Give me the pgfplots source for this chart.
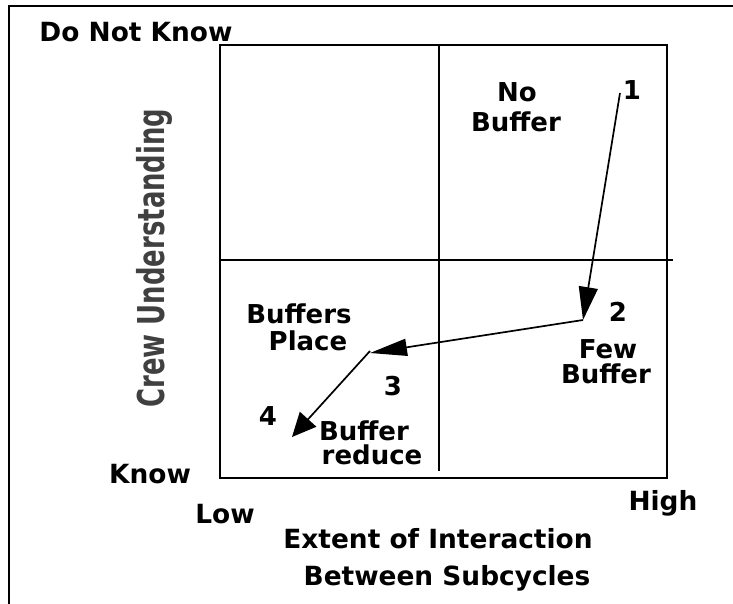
\documentclass[border=0pt]{standalone}
\usepackage{pgfplots}
\pgfplotsset{compat=1.18}
\usetikzlibrary{arrows.meta}
\usepackage{fontspec}
\setmainfont{DejaVu Sans}
\newcommand\lab{\fontsize{13pt}{13pt}\selectfont\bfseries}
\newcommand\ttl{\fontsize{13.2pt}{13.2pt}\selectfont\bfseries}
\begin{document}
\begin{tikzpicture}
\begin{axis}[
  scale only axis, width=223.5pt, height=216.5pt,
  xmin=220, xmax=667, ymin=45, ymax=478, y dir=reverse,
  axis line style={line width=1pt}, ticks=none, clip=false,
]
% quadrant dividers
\addplot[line width=1pt] coordinates {(439,45) (439,471)};
\addplot[line width=1pt] coordinates {(220,260) (673,260)};
% path arrows
\addplot[line width=0.85pt, -{Triangle[length=16.5pt,width=9.5pt]}] coordinates {(620,93) (583,320)};
\addplot[line width=0.85pt, -{Triangle[length=18.5pt,width=8.5pt]}] coordinates {(583,320) (370,353)};
\addplot[line width=0.85pt, -{Triangle[length=12pt,width=11pt]}] coordinates {(370,351) (292,437)};
% outer frame
\draw[line width=1pt] (axis cs:9.5,604) -- (axis cs:9.5,6.5) -- (axis cs:733,6.5);
% labels inside
\node[font=\lab, anchor=base] at (axis cs:517,102) {No};
\node[font=\lab, anchor=base] at (axis cs:516,132) {Buffer};
\node[font=\lab, anchor=base] at (axis cs:632,100) {1};
\node[font=\lab, anchor=base] at (axis cs:618,321) {2};
\node[font=\lab, anchor=base] at (axis cs:608,358) {Few};
\node[font=\lab, anchor=base] at (axis cs:606,383) {Buffer};
\node[font=\lab, anchor=base] at (axis cs:299,323) {Buffers};
\node[font=\lab, anchor=base] at (axis cs:308,350) {Place};
\node[font=\lab, anchor=base] at (axis cs:393,395) {3};
\node[font=\lab, anchor=base] at (axis cs:268,425) {4};
\node[font=\lab, anchor=base, inner sep=0pt] at (axis cs:364,440) {Buffer};
\node[font=\lab, anchor=base, inner sep=0pt] at (axis cs:372,464) {reduce};
% labels outside
\node[font=\ttl, anchor=base] at (axis cs:136,42) {Do Not Know};
\node[font=\ttl, anchor=base] at (axis cs:150,483) {Know};
\node[font=\ttl, anchor=base] at (axis cs:225,523) {Low};
\node[font=\ttl, anchor=base] at (axis cs:663,510) {High};
\node[font=\ttl, anchor=base] at (axis cs:438,548) {Extent of Interaction};
\node[font=\ttl, anchor=base] at (axis cs:447,585) {Between Subcycles};
\node[anchor=base, rotate=90, text=black!75] at (axis cs:165,258)
  {\scalebox{0.7}[1]{\fontsize{18.5pt}{18.5pt}\selectfont\bfseries Crew Understanding}};
\coordinate (bbTL) at (axis cs:0,0);
\coordinate (bbBR) at (axis cs:733,604);
\end{axis}
\pgfresetboundingbox
\useasboundingbox (bbTL) rectangle (bbBR);
\end{tikzpicture}
\end{document}
